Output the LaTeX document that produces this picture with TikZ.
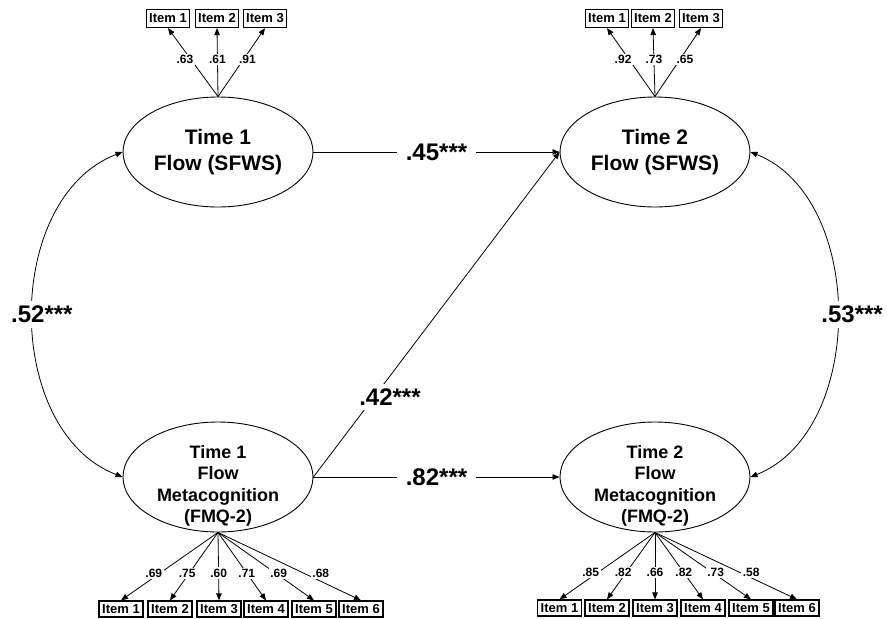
\documentclass[tikz,border=0pt]{standalone}
\usepackage{fontspec}
\setmainfont{Liberation Sans}
\usetikzlibrary{shapes.geometric,arrows.meta}

\begin{document}
\begin{tikzpicture}[x=1pt,y=-1pt,
  latent/.style={draw, ellipse, minimum width=190pt, minimum height=110pt,
    inner sep=0pt, line width=0.9pt},
  sfwstext/.style={align=center, inner sep=0pt,
    font=\fontsize{21}{25.5}\selectfont\bfseries},
  fmqtext/.style={align=center, inner sep=0pt,
    font=\fontsize{18}{21.5}\selectfont\bfseries},
  item/.style={draw, rectangle, line width=1.2pt,
    minimum width=43pt, minimum height=18pt, inner sep=0pt,
    font=\fontsize{13}{14}\selectfont\bfseries},
  itemlow/.style={item, minimum width=44pt, minimum height=16pt},
  conn/.style={line width=0.8pt, -{Triangle[length=7pt,width=5.5pt]}},
  cov/.style={line width=0.8pt, {Triangle[length=7pt,width=5.5pt]}-{Triangle[length=7pt,width=5.5pt]}},
  load/.style={fill=white, inner sep=1.5pt, font=\fontsize{12}{13}\selectfont\bfseries},
  coef/.style={fill=white, inner xsep=9pt, inner ysep=5pt,
    font=\fontsize{24}{28}\selectfont\bfseries}
]
\useasboundingbox (0,0) rectangle (887,619);

% latent factors
\node[latent] (F1) at (218,152) {};
\node[latent] (F2) at (655,152) {};
\node[latent] (M1) at (218,477) {};
\node[latent] (M2) at (655,477) {};

\node[sfwstext] (F1t) at (F1.center) {Time 1\\Flow (SFWS)};
\node[sfwstext] (F2t) at (F2.center) {Time 2\\Flow (SFWS)};
\node[fmqtext] (M1t) at ([yshift=-9pt]M1.center) {Time 1\\Flow\\Metacognition\\(FMQ-2)};
\node[fmqtext] (M2t) at ([yshift=-9pt]M2.center) {Time 2\\Flow\\Metacognition\\(FMQ-2)};

% SFWS indicators, time 1
\node[item] (a1) at (168,18.5) {Item 1};
\node[item] (a2) at (217,18.5) {Item 2};
\node[item] (a3) at (265,18.5) {Item 3};
% SFWS indicators, time 2
\node[item] (b1) at (607,18.5) {Item 1};
\node[item] (b2) at (653,18.5) {Item 2};
\node[item] (b3) at (701,18.5) {Item 3};

% FMQ-2 indicators, time 1
\node[itemlow] (c1) at (121,609) {Item 1};
\node[itemlow] (c2) at (170,609) {Item 2};
\node[itemlow] (c3) at (219,609) {Item 3};
\node[itemlow] (c4) at (266,609) {Item 4};
\node[itemlow] (c5) at (314,609) {Item 5};
\node[itemlow] (c6) at (361,609) {Item 6};
% FMQ-2 indicators, time 2
\node[itemlow] (d1) at (559.5,608) {Item 1};
\node[itemlow] (d2) at (607,608) {Item 2};
\node[itemlow] (d3) at (655,608) {Item 3};
\node[itemlow] (d4) at (703,608) {Item 4};
\node[itemlow] (d5) at (751,608) {Item 5};
\node[itemlow] (d6) at (797,608) {Item 6};

% loadings, SFWS
\draw[conn] (F1.north) -- node[load,pos=.54,xshift=-6pt] {.63} (a1.south);
\draw[conn] (F1.north) -- node[load,pos=.54] {.61} (a2.south);
\draw[conn] (F1.north) -- node[load,pos=.54,xshift=4pt] {.91} (a3.south);
\draw[conn] (F2.north) -- node[load,pos=.54,xshift=-6pt] {.92} (b1.south);
\draw[conn] (F2.north) -- node[load,pos=.54] {.73} (b2.south);
\draw[conn] (F2.north) -- node[load,pos=.54,xshift=5pt] {.65} (b3.south);

% loadings, FMQ-2
\draw[conn] (M1.south) -- node[load,pos=.6,xshift=-6pt] {.69} (c1.north);
\draw[conn] (M1.south) -- node[load,pos=.6,xshift=-2pt] {.75} (c2.north);
\draw[conn] (M1.south) -- node[load,pos=.6] {.60} (c3.north);
\draw[conn] (M1.south) -- node[load,pos=.6] {.71} (c4.north);
\draw[conn] (M1.south) -- node[load,pos=.6,xshift=3pt] {.69} (c5.north);
\draw[conn] (M1.south) -- node[load,pos=.6,xshift=17pt] {.68} (c6.north);
\draw[conn] (M2.south) -- node[load,pos=.6,xshift=-7pt] {.85} (d1.north);
\draw[conn] (M2.south) -- node[load,pos=.6,xshift=-3pt] {.82} (d2.north);
\draw[conn] (M2.south) -- node[load,pos=.6] {.66} (d3.north);
\draw[conn] (M2.south) -- node[load,pos=.6] {.82} (d4.north);
\draw[conn] (M2.south) -- node[load,pos=.6,xshift=3pt] {.73} (d5.north);
\draw[conn] (M2.south) -- node[load,pos=.6,xshift=11pt] {.58} (d6.north);

% structural paths
\draw[conn] (F1.east) -- node[coef,pos=.5] {.45***} (F2.west);
\draw[conn] (M1.east) -- node[coef,pos=.5] {.82***} (M2.west);
\draw[conn] (M1.east) -- node[coef,pos=.246,xshift=16pt] {.42***} (F2.west);

% covariances
\draw[cov] (F1.west) .. controls (3,198) and (3,431) ..
  node[coef,pos=.5,xshift=9pt,inner xsep=2pt] {.52***} (M1.west);
\draw[cov] (F2.east) .. controls (866,198) and (866,431) ..
  node[coef,pos=.5,xshift=15pt,inner xsep=2pt] {.53***} (M2.east);
\end{tikzpicture}
\end{document}
